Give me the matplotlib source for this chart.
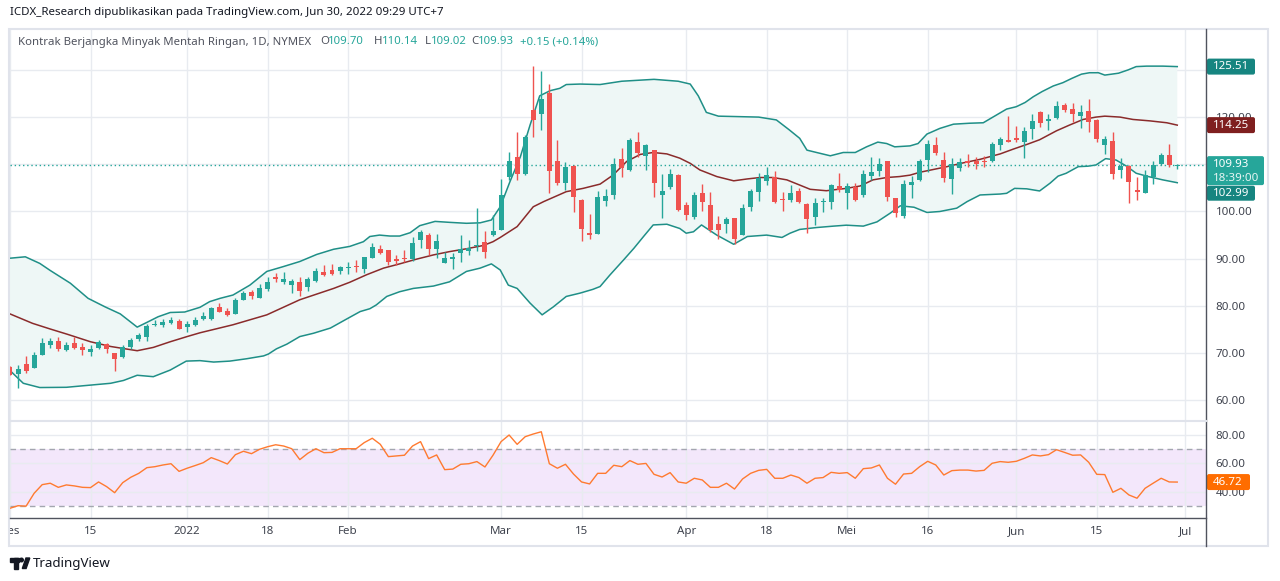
import numpy as np
import matplotlib
matplotlib.use("Agg")
import matplotlib.pyplot as plt
import matplotlib.transforms as mtransforms
from matplotlib.lines import Line2D
from matplotlib.patches import Rectangle, FancyBboxPatch, Circle, Polygon

plt.rcParams['font.family'] = ['Noto Sans', 'DejaVu Sans']

# daily candles, Dec 1 2021 .. Jun 30 2022 (bar index 0..145)
opens = [67.05, 65.64, 67.69, 66.91, 69.67, 71.71, 72.56, 70.66, 72.14, 71.29,
         70.30, 71.15, 71.93, 70.02, 69.17, 71.22, 72.99, 73.34, 75.95, 75.95,
         76.45, 76.73, 75.53, 75.95, 77.16, 77.23, 79.70, 78.92, 78.36, 81.32,
         82.95, 81.75, 83.51, 86.13, 85.14, 84.43, 85.07, 84.08, 85.28, 87.19,
         87.61, 87.40, 88.03, 88.39, 87.89, 90.22, 92.06, 91.78, 89.87, 90.08,
         89.87, 93.89, 95.02, 92.13, 89.16, 90.01, 91.28, 91.70, 92.62, 93.47,
         95.02, 96.08, 107.24, 111.48, 107.95, 121.51, 120.73, 125.04, 110.70, 106.11,
         109.64, 102.44, 95.45, 95.24, 102.30, 103.57, 111.13, 108.80, 114.73, 111.83,
         113.03, 103.50, 105.12, 107.74, 101.38, 98.91, 103.92, 101.38, 97.36, 97.29,
         98.63, 95.03, 101.03, 104.21, 106.54, 107.38, 102.58, 102.44, 104.35, 101.59,
         98.76, 102.01, 102.08, 105.33, 103.99, 105.12, 103.49, 107.52, 108.65, 110.70,
         102.93, 99.11, 105.61, 106.67, 110.91, 114.09, 110.91, 106.88, 109.28, 110.70,
         110.77, 110.55, 110.77, 114.16, 115.15, 115.57, 114.80, 117.48, 121.15, 119.25,
         119.74, 122.57, 121.72, 120.31, 121.29, 119.39, 114.16, 114.94, 108.79, 109.64,
         104.56, 103.99, 107.24, 110.00, 111.97, 109.70]
highs = [67.20, 67.41, 69.38, 70.23, 73.20, 73.13, 73.34, 72.35, 73.34, 72.07,
         71.64, 72.77, 72.14, 70.02, 71.64, 73.20, 74.19, 76.16, 77.01, 77.29,
         77.58, 77.15, 76.87, 77.65, 78.64, 79.70, 80.55, 79.49, 81.61, 83.16,
         83.30, 84.57, 86.06, 86.90, 87.19, 85.70, 86.13, 86.20, 87.96, 88.67,
         88.88, 88.53, 89.23, 89.80, 90.43, 93.33, 92.91, 91.80, 90.79, 91.85,
         94.67, 96.08, 95.38, 95.24, 91.49, 91.28, 95.02, 93.89, 100.67, 95.87,
         99.19, 106.90, 112.54, 116.92, 116.21, 130.83, 129.77, 127.02, 115.15, 110.42,
         109.78, 102.58, 99.47, 104.35, 104.70, 111.27, 113.46, 115.65, 116.85, 114.30,
         113.10, 107.88, 109.01, 107.95, 101.95, 104.21, 105.83, 104.21, 99.12, 98.91,
         98.70, 101.59, 104.70, 108.09, 109.50, 108.59, 104.21, 105.62, 104.91, 101.73,
         102.79, 102.93, 105.82, 108.08, 105.96, 106.11, 108.79, 111.47, 111.26, 110.75,
         102.95, 106.67, 107.52, 111.05, 115.15, 115.85, 112.53, 111.33, 111.26, 112.18,
         111.47, 111.83, 114.65, 115.86, 120.24, 118.12, 117.98, 120.66, 121.37, 120.66,
         123.41, 123.06, 123.06, 122.57, 123.84, 119.53, 116.00, 116.92, 111.27, 109.85,
         107.38, 108.79, 110.70, 112.47, 114.30, 110.14]
lows = [65.30, 62.67, 65.85, 66.85, 69.60, 71.00, 70.44, 70.51, 70.87, 69.60,
        69.45, 70.87, 69.95, 66.28, 68.89, 70.94, 72.49, 72.63, 75.81, 75.60,
        76.09, 75.10, 74.54, 75.81, 77.02, 76.95, 78.64, 77.93, 78.30, 81.25,
        81.46, 81.70, 83.23, 85.07, 84.57, 82.67, 82.17, 83.23, 85.14, 86.34,
        86.62, 86.76, 86.76, 87.26, 87.04, 90.08, 90.93, 88.74, 88.67, 89.37,
        89.52, 92.34, 90.79, 90.22, 89.02, 87.75, 89.37, 90.79, 91.70, 90.22,
        94.88, 96.00, 106.68, 106.68, 107.67, 115.86, 117.27, 103.85, 105.69, 104.56,
        99.97, 93.82, 94.25, 95.20, 101.24, 102.72, 107.38, 108.66, 111.62, 108.80,
        103.15, 98.70, 104.77, 100.04, 98.20, 98.34, 100.18, 95.66, 94.11, 95.38,
        93.12, 95.00, 100.18, 102.30, 105.62, 101.73, 100.18, 102.09, 101.87, 95.51,
        97.14, 99.96, 100.46, 104.06, 100.53, 102.29, 103.14, 106.67, 107.52, 102.29,
        98.90, 98.55, 102.93, 106.46, 108.44, 111.97, 106.32, 103.63, 108.65, 109.50,
        108.93, 109.50, 110.55, 113.03, 114.66, 114.80, 111.41, 115.36, 117.98, 117.27,
        119.60, 121.15, 118.89, 117.76, 116.92, 114.80, 112.11, 106.82, 107.17, 101.87,
        102.44, 103.95, 105.83, 109.85, 109.50, 109.02]
closes = [65.43, 66.63, 66.28, 69.60, 72.14, 72.56, 70.87, 71.71, 71.08, 70.73,
          70.87, 72.28, 70.80, 68.68, 71.29, 72.77, 73.90, 75.74, 76.16, 76.66,
          77.01, 75.17, 76.16, 77.01, 77.86, 79.49, 78.78, 78.15, 81.25, 82.67,
          82.10, 83.79, 85.07, 85.70, 85.70, 85.28, 83.23, 85.70, 87.40, 86.55,
          86.83, 88.25, 88.17, 88.25, 90.29, 92.41, 91.28, 89.37, 89.59, 89.87,
          93.33, 95.59, 92.13, 93.68, 90.08, 90.29, 92.13, 92.34, 92.90, 91.49,
          95.87, 103.50, 110.70, 107.95, 115.72, 119.39, 123.84, 108.65, 106.11, 109.43,
          103.14, 96.29, 95.09, 103.14, 103.29, 110.07, 109.29, 115.15, 112.47, 114.09,
          105.97, 104.35, 107.95, 100.32, 99.33, 103.50, 102.09, 96.08, 96.08, 98.42,
          94.18, 100.75, 104.42, 107.03, 107.74, 102.09, 102.37, 103.85, 102.09, 98.41,
          101.73, 102.22, 105.54, 104.55, 105.33, 102.43, 107.94, 108.37, 110.06, 103.14,
          99.61, 105.82, 106.18, 110.77, 114.30, 112.46, 107.17, 110.06, 110.48, 110.34,
          110.06, 110.41, 114.30, 115.36, 114.80, 115.15, 117.06, 119.18, 118.68, 119.60,
          122.35, 121.58, 120.66, 121.01, 119.03, 115.29, 115.29, 107.95, 109.64, 106.32,
          104.20, 107.74, 109.85, 111.97, 109.85, 109.93]

# Bollinger bands at the bar positions given
bb_upper_x = [0, 1.9, 3.7, 5, 7.5, 9.7, 11.8, 13.7, 15.8, 17, 18.4, 19.9, 21.7, 23.6, 24.8,
              26.1, 27.7, 29.8, 31.9, 33.9, 36, 38.1, 40.2, 42.2, 43.9, 44.7, 45.9, 47.2,
              48.4, 49.7, 50.9, 52.8, 54.6, 56.7, 58.4, 59.8, 60.9, 62.1, 63.4, 64.6, 65.8,
              67.1, 68.3, 69.1, 70.8, 73.3, 76, 80, 83, 84.5, 85.5, 86.5, 88, 93, 95.2, 96.8,
              98.1, 99, 100.2, 101.9, 103.5, 105, 106.4, 107.8, 108.9, 109.9, 111.8, 112.8,
              113.9, 115.5, 117.2, 119.2, 120.9, 123, 123.8, 125, 126.1, 127.1, 128.2, 129.6,
              130.8, 131.9, 133.1, 134.1, 135.2, 136, 137.7, 138.9, 139.9, 141.2, 143.2, 145]
bb_upper = [90.1, 90.4, 89.0, 87.5, 84.8, 81.6, 79.8, 78.3, 75.5, 76.5, 77.7, 78.6, 78.7, 79.7,
            80.9, 81.6, 82.3, 84.4, 87.3, 88.3, 89.4, 90.9, 92.0, 92.6, 93.6, 94.7, 95.0, 94.8,
            94.8, 95.5, 97.0, 97.9, 97.7, 97.5, 97.6, 98.2, 101.0, 106.3, 111.6, 118.3, 124.5,
            125.6, 126.1, 126.9, 127.0, 126.9, 127.6, 128.0, 127.6, 127.0, 124.5, 121.0, 120.2,
            120.0, 119.4, 117.3, 115.5, 113.0, 112.5, 111.8, 112.5, 112.5, 113.7, 114.7, 114.4,
            113.7, 113.9, 114.4, 116.4, 117.6, 118.5, 118.7, 118.8, 120.9, 121.7, 122.2, 123.1,
            124.3, 125.4, 126.6, 127.3, 128.2, 129.1, 129.4, 129.4, 128.9, 129.3, 130.0, 130.7,
            130.8, 130.8, 130.7]
bb_mid_x = [0, 2.8, 5, 7.1, 10, 12.5, 15.8, 17.8, 19.9, 22, 23.6, 27.7, 31.9, 36, 38.1, 40.2,
            42.2, 44.3, 46.4, 48.4, 50.5, 52.6, 54.6, 56.7, 58.8, 60, 60.9, 63, 65, 66.3, 67.9,
            69.1, 71.2, 73.3, 74.9, 76.6, 78.3, 79.9, 81.6, 83.2, 84.5, 85.7, 87.8, 89.9, 91.6,
            93.2, 94.8, 96.5, 98.1, 99.4, 101.4, 103.9, 105.6, 107.2, 108.9, 110.5, 111.8, 113,
            114.7, 116.4, 118.4, 120.5, 123, 124.6, 126.3, 127.9, 130, 131.6, 133.3, 134.9, 136,
            137.9, 139.5, 141.6, 143.7, 145]
bb_mid = [78.3, 76.3, 75.1, 74.0, 72.4, 71.4, 70.5, 71.2, 72.4, 73.5, 74.3, 76.0, 78.1, 81.3,
          82.5, 83.7, 85.0, 86.6, 88.0, 88.9, 89.9, 90.8, 91.5, 92.1, 92.8, 93.6, 94.5, 96.8,
          101.0, 102.1, 103.3, 104.2, 104.9, 105.8, 107.7, 110.6, 112.1, 112.5, 112.2, 111.3,
          110.2, 108.8, 107.4, 106.5, 106.9, 107.2, 107.2, 106.7, 105.6, 104.7, 104.4, 104.9,
          105.4, 106.7, 107.2, 107.4, 107.7, 108.3, 108.9, 109.5, 110.3, 111.05, 112.2, 113.2,
          114.2, 115.2, 117.1, 118.3, 119.5, 120.0, 120.2, 120.0, 119.5, 119.2, 118.8, 118.3]
bb_lower_x = [0, 1.65, 3.7, 7, 9.9, 12.5, 14.1, 15.8, 17.8, 19.9, 21.9, 23.6, 25.3, 27.3, 29.4,
              31.5, 32.1, 33.1, 34.4, 36, 37.7, 39.8, 41.8, 43.5, 44.7, 45.5, 46.8, 48.4, 50.1,
              52.6, 54.6, 56.7, 58.4, 59.8, 60.9, 61.9, 63, 64.6, 66.1, 67.5, 69.1, 70.8, 72.4,
              73.3, 74.5, 76.2, 77.5, 78.7, 79.9, 81.6, 83.2, 84, 84.9, 85.9, 87, 87.8, 89.9,
              91.6, 94, 95.9, 96.9, 98.1, 100.2, 102.3, 103.9, 106, 107.7, 109.3, 110.6, 112.3,
              113.9, 115.5, 117.6, 118.9, 120.5, 123, 123.8, 124.8, 126.3, 127.9, 129.2, 130.2,
              131.2, 132.7, 133.9, 134.9, 136.1, 137.4, 138.7, 139.9, 141.4, 143.2, 145]
bb_lower = [66.3, 63.6, 62.7, 62.75, 63.2, 63.6, 64.2, 65.3, 65.0, 66.4, 68.3, 68.4, 68.1, 68.3,
            68.8, 69.4, 69.8, 70.9, 71.9, 73.5, 74.2, 75.3, 77.2, 78.8, 79.4, 80.2, 82.0, 83.0,
            83.7, 84.2, 85.1, 87.3, 88.0, 88.9, 87.6, 84.4, 83.7, 80.6, 78.1, 79.8, 82.0, 82.7,
            83.5, 84.1, 86.5, 89.7, 92.2, 94.7, 97.15, 97.3, 96.4, 95.4, 95.7, 97.15, 95.9, 95.0,
            93.05, 94.7, 95.0, 94.5, 95.4, 96.2, 96.6, 96.9, 97.1, 96.9, 97.8, 99.6, 101.2, 100.9,
            99.8, 100.0, 100.7, 102.1, 103.5, 103.7, 103.85, 104.9, 104.8, 104.35, 106.0, 107.5,
            108.1, 109.5, 109.6, 109.85, 111.2, 110.9, 109.6, 108.1, 107.4, 106.7, 106.1]

rsi = [28.2, 30.0, 29.7, 38.8, 44.9, 45.9, 43.0, 44.7, 44.0, 43.0,
       42.8, 46.8, 43.5, 39.2, 46.3, 50.1, 52.9, 56.9, 57.6, 58.8,
       59.7, 54.3, 56.5, 58.4, 60.4, 64.0, 61.9, 59.5, 66.1, 68.5,
       66.8, 69.9, 71.7, 73.1, 72.2, 70.3, 62.6, 67.1, 70.3, 67.5,
       67.7, 70.3, 70.3, 70.3, 74.6, 77.7, 73.4, 64.7, 65.2, 65.7,
       72.2, 75.3, 63.3, 65.9, 55.5, 55.9, 59.3, 59.7, 61.2, 57.4,
       65.7, 75.3, 80.0, 73.4, 78.8, 80.7, 82.3, 59.7, 56.5, 59.3,
       52.4, 46.8, 45.4, 52.9, 52.9, 58.6, 57.6, 61.9, 59.3, 59.9,
       52.2, 50.3, 53.4, 46.8, 45.9, 49.4, 48.2, 43.0, 43.0, 45.9,
       41.8, 48.9, 52.9, 55.0, 55.7, 49.4, 49.4, 51.7, 49.9, 45.9,
       49.4, 49.9, 53.6, 52.9, 53.4, 49.4, 56.2, 56.7, 58.8, 49.4,
       45.2, 52.4, 52.9, 57.6, 61.4, 58.8, 51.7, 54.8, 55.2, 55.2,
       54.5, 55.0, 60.0, 61.2, 60.7, 61.4, 63.5, 65.9, 65.2, 66.1,
       69.6, 67.7, 65.7, 65.9, 60.7, 52.2, 52.0, 39.5, 42.3, 37.6,
       35.3, 42.3, 45.9, 49.4, 46.8, 46.72]

tick_pos = [0, 10, 22, 32, 42, 61, 71, 84, 94, 104, 114, 125, 135, 146]
tick_labels = ['Des', '15', '2022', '18', 'Feb', 'Mar', '15', 'Apr', '18', 'Mei', '16',
               'Jun', '15', 'Jul']
price_ticks = [60, 70, 80, 90, 100, 110, 120, 130]
price_tick_labels = ['60.00', '70.00', '80.00', '90.00', '100.00', '', '120.00', '']  # 110/130 sit under tags

W, H = 1280, 581
UP, DOWN = '#26a69a', '#ef5350'
BAND = '#1f8f87'
BASIS = '#8a2b2b'
GRID = '#e8ebf0'
AXTXT = '#3f434e'

fig = plt.figure(figsize=(W / 100, H / 100), dpi=100)
px = mtransforms.Affine2D().scale(1, -1).translate(0, H)  # pixel coords, y down


def fbox(x0, y0, x1, y1):
    return [x0 / W, 1 - y1 / H, (x1 - x0) / W, (y1 - y0) / H]


ax = fig.add_axes(fbox(10, 29.5, 1206, 421))
ax_rsi = fig.add_axes(fbox(10, 421, 1206, 518.3), sharex=ax)
ax_time = fig.add_axes(fbox(10, 518.3, 1206, 545), sharex=ax)

for a in (ax, ax_rsi, ax_time):
    for s in a.spines.values():
        s.set_visible(False)
    a.set_facecolor('none')

ax.set_xlim(0, 148.57)
ax.set_ylim(55.61, 138.56)
ax_rsi.set_ylim(21.1, 89.9)

# grids
for a in (ax, ax_rsi):
    a.set_xticks(tick_pos)
    a.tick_params(axis='x', length=0, labelbottom=False)
    a.grid(True, color=GRID, lw=1, zorder=0)
    a.set_axisbelow(True)
    a.yaxis.tick_right()
    a.tick_params(axis='y', length=0, pad=7, labelsize=8.3, labelcolor=AXTXT)

ax.set_yticks(price_ticks)
ax.set_yticklabels(price_tick_labels)
ax_rsi.set_yticks([40, 60, 80])
ax_rsi.set_yticklabels(['40.00', '60.00', '80.00'])

# bollinger bands
ax.fill(np.concatenate([bb_upper_x, bb_lower_x[::-1]]),
        np.concatenate([bb_upper, bb_lower[::-1]]),
        color='#eef7f6', lw=0, zorder=1)
ax.plot(bb_upper_x, bb_upper, color=BAND, lw=1.1, zorder=2)
ax.plot(bb_lower_x, bb_lower, color=BAND, lw=1.1, zorder=2)
ax.plot(bb_mid_x, bb_mid, color=BASIS, lw=1.1, zorder=2)

# candles
o = np.array(opens)
c = np.array(closes)
idx = np.arange(len(o))
cols = np.where(c >= o, UP, DOWN)
ax.vlines(idx, lows, highs, colors=cols, lw=1, zorder=4)
ax.bar(idx, np.maximum(np.abs(c - o), 0.22), bottom=np.minimum(o, c), width=0.62,
       color=cols, lw=0, zorder=5)

ax.axhline(closes[-1], color=UP, lw=1, ls=(0, (1, 2)), zorder=3)

# RSI
ax_rsi.axhspan(30, 70, color='#f3e7fb', lw=0, zorder=0.5)
for lvl in (70, 30):
    ax_rsi.axhline(lvl, color='#a3a6af', lw=1, ls=(0, (4, 3)), zorder=1)
ax_rsi.plot(idx, rsi, color='#ff7a30', lw=1.0, zorder=3)

# time axis labels
ax_time.set_ylim(0, 1)
ax_time.axis('off')
for p, t in zip(tick_pos, tick_labels):
    ax_time.text(p, 0.5, t, ha='center', va='center', fontsize=8.3, color=AXTXT,
                 transform=ax_time.get_xaxis_transform(), clip_on=True)

# frame / axis lines
fig.add_artist(Rectangle((9, 29), 1259, 517, transform=px, fill=False,
                         ec='#e0e3eb', lw=1.5))
fig.add_artist(Line2D([1206, 1206], [29, 546], transform=px, color='#50535e', lw=1))
fig.add_artist(Line2D([10, 1206], [518.3, 518.3], transform=px, color='#50535e', lw=1))
fig.add_artist(Line2D([10, 1206], [421, 421], transform=px, color='#e0e3eb', lw=1.5))


def tag(axis, y, text, face, w, h, dy=0, top=None, sub=None):
    base = mtransforms.ScaledTranslation(1, y, axis.get_yaxis_transform())
    tr = fig.dpi_scale_trans + base
    y0 = -h / 2 - dy if top is None else -(top + h)
    axis.add_artist(FancyBboxPatch((1 / 100, y0 / 100), w / 100, h / 100,
                                   boxstyle='round,pad=0,rounding_size=0.02',
                                   transform=tr, fc=face, ec='none', clip_on=False,
                                   zorder=10))
    axis.text(7 / 100, (-dy) / 100, text, transform=tr, ha='left', va='center',
              fontsize=8.3, color='white', clip_on=False, zorder=11)
    if sub:
        axis.text(7 / 100, (-dy - 14) / 100, sub, transform=tr, ha='left', va='center',
                  fontsize=8.3, color='#e6f5f3', clip_on=False, zorder=11)


tag(ax, bb_upper[-1], '125.51', '#168580', 48, 16)
tag(ax, bb_mid[-1], '114.25', '#7f1f1f', 48, 16)
tag(ax, closes[-1], '109.93', UP, 57, 29, top=-8.5, sub='18:39:00')
tag(ax, bb_lower[-1], '102.99', '#168580', 48, 15, dy=10.5)
tag(ax_rsi, rsi[-1], '46.72', '#ff6d00', 43, 16)

# header
fig.text(10 / W, 1 - 13 / H, 'ICDX_Research dipublikasikan pada TradingView.com, Jun 30, 2022 09:29 UTC+7',
         fontsize=8.3, color='#131722', va='center')
legend = [('Kontrak Berjangka Minyak Mentah Ringan, 1D, NYMEX', 18.4, '#50535e'),
          ('O', 320, '#50535e'), ('109.70', 328, UP),
          ('H', 373.5, '#50535e'), ('110.14', 381.6, UP),
          ('L', 424.5, '#50535e'), ('109.02', 430.6, UP),
          ('C', 471.4, '#50535e'), ('109.93', 477.6, UP),
          ('+0.15 (+0.14%)', 520, UP)]
for t, x, col in legend:
    fig.text(x / W, 1 - 42 / H, t, fontsize=8.2, color=col, va='center')

# TradingView logo
for patch in (Rectangle((10, 558), 9, 3.5), Rectangle((14, 558), 4, 10.5),
              Circle((21.5, 560), 1.8),
              Polygon([(22.3, 568.5), (26, 558), (29.8, 558), (26.1, 568.5)])):
    patch.set_transform(px)
    patch.set_color('#131722')
    fig.add_artist(patch)
fig.text(33 / W, 1 - 563 / H, 'TradingView', fontsize=9.6, color='#131722', va='center')

fig.savefig('out.png', dpi=100, facecolor='white')
